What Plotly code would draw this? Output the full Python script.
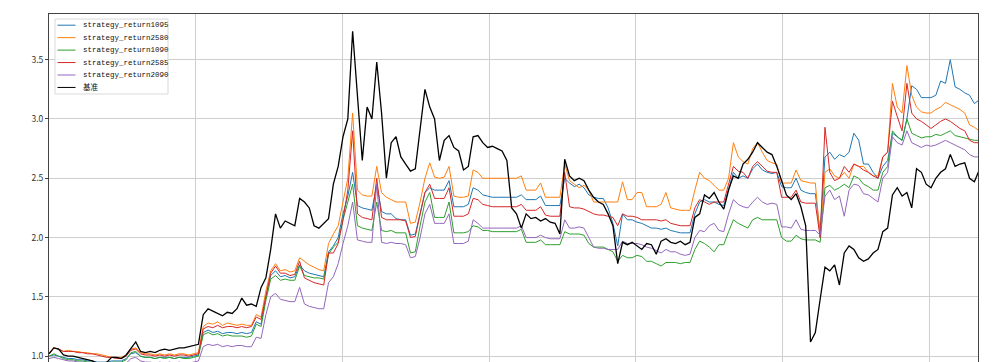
import pandas as pd
import plotly.graph_objects as go

# sampling dates (every 12 days from start of 2014)
dates = pd.date_range("2014-01-01", periods=194, freq="12D")

benchmark = [
    1.02, 1.07, 1.06, 1.01, 1.0, 1.0, 0.99, 0.98, 0.97, 0.96,
    0.94, 0.93, 0.95, 0.99, 0.99, 0.98, 1.01, 1.07, 1.12, 1.04,
    1.03, 1.04, 1.03, 1.05, 1.06, 1.05, 1.06, 1.07, 1.07, 1.08,
    1.09, 1.1, 1.35, 1.4, 1.38, 1.36, 1.34, 1.37, 1.36, 1.4,
    1.49, 1.43, 1.44, 1.42, 1.58, 1.66, 1.9, 2.2, 2.08, 2.14,
    2.12, 2.1, 2.33, 2.3, 2.25, 2.1, 2.08, 2.12, 2.16, 2.45,
    2.6, 2.85, 3.0, 3.74, 3.2, 2.65, 3.1, 3.0, 3.48, 3.05,
    2.5, 2.8, 2.85, 2.68, 2.62, 2.56, 2.58, 2.9, 3.25, 3.1,
    3.0, 2.65, 2.82, 2.86, 2.76, 2.73, 2.57, 2.6, 2.85, 2.86,
    2.8, 2.76, 2.77, 2.75, 2.73, 2.65, 2.25, 2.2, 2.08, 2.2,
    2.16, 2.17, 2.14, 2.16, 2.13, 2.12, 2.03, 2.66, 2.52, 2.48,
    2.5, 2.48, 2.4, 2.34, 2.3, 2.28, 2.2, 2.1, 1.78, 1.96,
    1.94, 1.96, 1.93, 1.9, 1.95, 1.94, 1.86, 1.97, 1.99, 1.96,
    1.95, 1.97, 1.94, 1.96, 2.17, 2.2, 2.36, 2.33, 2.38, 2.3,
    2.24, 2.4, 2.52, 2.5, 2.62, 2.66, 2.72, 2.8, 2.76, 2.72,
    2.7, 2.6, 2.48, 2.36, 2.32, 2.37, 2.26, 2.1, 1.12, 1.2,
    1.48, 1.75, 1.72, 1.77, 1.6, 1.87, 1.93, 1.9, 1.83, 1.8,
    1.82, 1.87, 1.9, 2.05, 2.08, 2.36, 2.42, 2.35, 2.38, 2.25,
    2.58, 2.55, 2.45, 2.42, 2.5, 2.55, 2.58, 2.7, 2.6, 2.62,
    2.63, 2.5, 2.47, 2.57,
]

return1095 = [
    1.0, 1.01, 1.0, 0.99, 0.98, 0.98, 0.97, 0.97, 0.96, 0.96,
    0.95, 0.95, 0.95, 0.96, 0.96, 0.96, 0.98, 1.02, 1.03, 1.0,
    0.99, 0.99, 0.98, 0.99, 0.99, 0.99, 0.98, 0.99, 0.99, 0.99,
    1.0, 1.01, 1.2, 1.22, 1.2, 1.21, 1.19, 1.2, 1.2, 1.19,
    1.2, 1.19, 1.2, 1.29, 1.27, 1.5, 1.68, 1.72, 1.67, 1.68,
    1.66, 1.67, 1.77, 1.72, 1.7, 1.69, 1.68, 1.67, 1.88, 1.93,
    2.0, 2.2, 2.35, 2.55, 2.27, 2.25, 2.24, 2.23, 2.45, 2.22,
    2.2, 2.2, 2.16, 2.15, 2.15, 2.02, 2.03, 2.2, 2.38, 2.42,
    2.4, 2.4, 2.4, 2.48, 2.26, 2.26, 2.26, 2.28, 2.42, 2.4,
    2.36, 2.35, 2.34, 2.34, 2.34, 2.34, 2.34, 2.34, 2.36, 2.32,
    2.32, 2.32, 2.35, 2.27, 2.27, 2.27, 2.27, 2.5, 2.46, 2.43,
    2.45, 2.42, 2.36, 2.34, 2.33, 2.33, 2.25, 2.12, 1.93, 2.2,
    2.15, 2.15, 2.13, 2.12, 2.1, 2.08, 2.08, 2.07, 2.08, 2.06,
    2.05, 2.04, 2.04, 2.04, 2.2, 2.3, 2.32, 2.3, 2.3, 2.28,
    2.27, 2.4, 2.55, 2.5, 2.52, 2.5, 2.58, 2.62, 2.57, 2.55,
    2.54, 2.55, 2.43, 2.42, 2.42, 2.5, 2.4, 2.38, 2.37, 2.37,
    2.05, 2.68, 2.72, 2.66, 2.7, 2.68, 2.72, 2.88, 2.82, 2.62,
    2.62, 2.55, 2.5, 2.6, 2.65, 2.88, 2.85, 2.82, 3.0, 3.28,
    3.25, 3.18, 3.18, 3.18, 3.2, 3.32, 3.3, 3.5, 3.27, 3.25,
    3.22, 3.2, 3.13, 3.16,
]

return2580 = [
    1.02, 1.07, 1.06, 1.04, 1.05, 1.04, 1.04, 1.03, 1.03, 1.02,
    1.02, 1.01, 1.0, 0.99, 0.99, 0.99, 1.01, 1.06, 1.07, 1.03,
    1.02, 1.02, 1.01, 1.02, 1.01, 1.02, 1.01, 1.02, 1.02, 1.01,
    1.02, 1.03, 1.25, 1.28, 1.27, 1.29, 1.26, 1.28, 1.27, 1.26,
    1.27, 1.26, 1.26, 1.35, 1.33, 1.55, 1.72, 1.78, 1.72, 1.73,
    1.71, 1.72, 1.83, 1.8, 1.77, 1.75, 1.73, 1.72, 1.95, 2.03,
    2.1, 2.3, 2.5, 3.05, 2.4, 2.36, 2.35, 2.35, 2.6, 2.38,
    2.34, 2.32, 2.3, 2.3, 2.3, 2.12, 2.13, 2.3, 2.5, 2.63,
    2.51, 2.5, 2.51, 2.6, 2.35, 2.34, 2.34, 2.35, 2.57, 2.55,
    2.5, 2.5, 2.5, 2.5, 2.5, 2.5, 2.5, 2.5, 2.52, 2.4,
    2.4, 2.4, 2.46, 2.34, 2.34, 2.34, 2.34, 2.62, 2.48, 2.45,
    2.42, 2.44, 2.4, 2.3, 2.3, 2.3, 2.3, 2.3, 2.3, 2.47,
    2.32, 2.32, 2.38, 2.38, 2.26, 2.26, 2.26, 2.28, 2.38, 2.25,
    2.24, 2.23, 2.23, 2.23, 2.4, 2.55, 2.5, 2.48, 2.44, 2.4,
    2.4, 2.5, 2.8, 2.68, 2.64, 2.62, 2.75, 2.8, 2.72, 2.65,
    2.63, 2.62, 2.46, 2.46, 2.46, 2.57, 2.48, 2.47, 2.46, 2.46,
    2.0, 2.55, 2.58, 2.52, 2.5, 2.55, 2.5, 2.62, 2.6, 2.6,
    2.55, 2.52, 2.52, 2.68, 2.72, 3.3, 3.1, 3.05, 3.45, 3.2,
    3.1, 3.06, 3.05, 3.05, 3.08, 3.1, 3.14, 3.12, 3.1, 3.08,
    3.05, 2.95, 2.93, 2.9,
]

return1090 = [
    1.0, 1.02, 1.0, 0.98, 0.97, 0.97, 0.96, 0.96, 0.95, 0.95,
    0.94, 0.94, 0.94, 0.95, 0.95, 0.95, 0.97, 1.03, 1.04, 1.0,
    0.99, 0.99, 0.98, 0.99, 0.98, 0.99, 0.98, 0.99, 0.98, 0.98,
    0.99, 1.0, 1.18, 1.2, 1.18, 1.19, 1.17, 1.18, 1.17, 1.17,
    1.17, 1.16, 1.17, 1.27, 1.25, 1.47, 1.65, 1.68, 1.64, 1.65,
    1.64, 1.64, 1.76, 1.68, 1.67, 1.66, 1.66, 1.65, 1.86, 1.92,
    1.96, 2.15, 2.3, 2.45, 2.1, 2.08, 2.07, 2.06, 2.3, 2.06,
    2.05, 2.06, 2.04, 2.04, 2.04, 1.87, 1.88, 2.1, 2.3, 2.38,
    2.17, 2.17, 2.17, 2.3, 2.04, 2.04, 2.04, 2.05, 2.1, 2.09,
    2.06, 2.06, 2.05, 2.05, 2.05, 2.05, 2.05, 2.05, 2.07, 1.96,
    1.96, 1.96, 1.98, 1.94, 1.94, 1.94, 1.94, 2.05, 2.03, 2.03,
    2.03, 2.02, 1.95, 1.92, 1.92, 1.92, 1.9, 1.88, 1.8, 1.85,
    1.83, 1.83, 1.85, 1.84, 1.8, 1.8, 1.78, 1.76, 1.79, 1.79,
    1.79, 1.78, 1.79, 1.79, 1.9, 1.97, 1.95, 1.92, 1.88, 1.94,
    1.94, 2.05, 2.15, 2.12, 2.1, 2.08, 2.15, 2.17, 2.15, 2.15,
    2.15, 2.15, 2.0, 1.97, 1.97, 2.02, 1.99, 1.98, 1.98, 1.98,
    1.96, 2.42, 2.44, 2.4, 2.42, 2.45, 2.42, 2.52, 2.5, 2.45,
    2.43, 2.4, 2.4, 2.55, 2.6, 2.9, 2.85, 2.82, 3.0, 2.88,
    2.86, 2.84, 2.85, 2.85, 2.87, 2.86, 2.88, 2.9, 2.86, 2.85,
    2.84, 2.83, 2.82, 2.82,
]

return2585 = [
    1.02, 1.07, 1.06, 1.04, 1.04, 1.04, 1.03, 1.03, 1.02, 1.02,
    1.01, 1.0, 0.99, 0.99, 0.98, 0.98, 1.0, 1.05, 1.06, 1.02,
    1.01, 1.01, 1.0, 1.01, 1.0, 1.01, 1.0, 1.01, 1.01, 1.0,
    1.01, 1.02, 1.23, 1.25, 1.24, 1.26, 1.24, 1.25, 1.25, 1.24,
    1.25, 1.24, 1.25, 1.33, 1.31, 1.52, 1.7, 1.76, 1.7, 1.7,
    1.68, 1.69, 1.8, 1.66, 1.64, 1.62, 1.61, 1.6, 1.87, 1.87,
    1.95, 2.15, 2.4, 2.9, 2.2, 2.17, 2.16, 2.15, 2.5, 2.17,
    2.15, 2.15, 2.15, 2.15, 2.14, 2.0, 2.01, 2.2, 2.38, 2.45,
    2.33, 2.33, 2.33, 2.42, 2.18, 2.18, 2.18, 2.2, 2.33, 2.32,
    2.28, 2.27, 2.26, 2.26, 2.26, 2.26, 2.26, 2.26, 2.28, 2.23,
    2.23, 2.23, 2.26, 2.19, 2.18, 2.18, 2.18, 2.55, 2.26, 2.25,
    2.25, 2.24, 2.22, 2.2, 2.19, 2.19, 2.18, 2.17, 2.1, 2.2,
    2.18, 2.18, 2.17, 2.15, 2.15, 2.15, 2.15, 2.14, 2.15, 2.12,
    2.11, 2.1, 2.1, 2.1, 2.25, 2.32, 2.3, 2.28, 2.3, 2.3,
    2.3, 2.45, 2.6, 2.56, 2.55, 2.5, 2.6, 2.64, 2.6, 2.56,
    2.55, 2.55, 2.34, 2.34, 2.34, 2.4, 2.3, 2.29, 2.29, 2.29,
    2.0, 2.93, 2.55, 2.48, 2.5, 2.6, 2.55, 2.62, 2.6, 2.57,
    2.55, 2.52, 2.5, 2.68, 2.72, 3.15, 3.02, 2.9, 3.3, 3.05,
    3.0, 2.98, 2.95, 2.92, 2.95, 2.98, 3.0, 2.98, 2.95, 2.92,
    2.9, 2.82, 2.8, 2.8,
]

return2090 = [
    0.98, 0.99, 0.98, 0.97, 0.96, 0.96, 0.95, 0.95, 0.94, 0.94,
    0.93, 0.93, 0.92, 0.93, 0.93, 0.93, 0.94, 0.98, 0.99, 0.96,
    0.95, 0.95, 0.94, 0.95, 0.94, 0.95, 0.94, 0.95, 0.94, 0.94,
    0.95, 0.96, 1.08, 1.1, 1.09, 1.1, 1.08, 1.09, 1.08, 1.09,
    1.09, 1.08, 1.08, 1.16, 1.15, 1.35, 1.5, 1.53, 1.48, 1.47,
    1.46, 1.46, 1.58, 1.44, 1.42, 1.41, 1.4, 1.4, 1.62, 1.67,
    1.78, 1.95, 2.1, 2.3, 1.98, 1.97, 1.96, 1.96, 2.45, 1.96,
    1.95, 1.96, 1.95, 1.95, 1.94, 1.83, 1.84, 2.0, 2.2, 2.28,
    2.12, 2.12, 2.12, 2.2, 1.95, 1.95, 1.95, 1.97, 2.15, 2.12,
    2.08, 2.08, 2.08, 2.08, 2.08, 2.08, 2.08, 2.08, 2.1, 2.0,
    2.0, 2.0, 2.02, 2.0, 1.99, 1.99, 1.99, 2.15, 2.08, 2.08,
    2.09, 2.08, 2.0, 1.92, 1.91, 1.91, 1.9, 1.9, 1.9, 1.97,
    1.95, 1.95, 1.95, 1.94, 1.92, 1.91, 1.89, 1.87, 1.9, 1.88,
    1.88, 1.86, 1.85, 1.86, 2.0, 2.06, 2.05, 2.1, 2.12, 2.06,
    2.05, 2.2, 2.32, 2.28, 2.26, 2.25, 2.3, 2.34, 2.3, 2.28,
    2.29, 2.28, 2.09, 2.09, 2.08, 2.15, 2.07, 2.06, 2.06, 2.06,
    2.02, 2.35, 2.4, 2.32, 2.35, 2.18, 2.4, 2.45, 2.44, 2.37,
    2.36, 2.33, 2.3, 2.5, 2.55, 2.85, 2.8, 2.78, 2.9, 2.8,
    2.78, 2.76, 2.78, 2.77, 2.78, 2.8, 2.82, 2.8, 2.78, 2.76,
    2.74, 2.7, 2.68, 2.68,
]

series = [
    ("strategy_return1095", return1095, "#1f77b4", 1.0),
    ("strategy_return2580", return2580, "#ff7f0e", 1.0),
    ("strategy_return1090", return1090, "#2ca02c", 1.0),
    ("strategy_return2585", return2585, "#d62728", 1.0),
    ("strategy_return2090", return2090, "#9467bd", 1.0),
    ("基准", benchmark, "#000000", 1.3),
]

W, H = 1002, 362
ML, MR, MT, MB = 49, 24, 14, 0
PW, PH = W - ML - MR, H - MT - MB


def px(xp):
    return (xp - ML) / PW


def py(yp):
    return (H - MB - yp) / PH


fig = go.Figure()
for name, vals, color, width in series:
    fig.add_trace(go.Scatter(
        x=dates, y=vals, mode="lines", name=name,
        line=dict(color=color, width=width),
    ))

# matplotlib-style compact legend (frame, line samples, labels)
shapes = [dict(type="rect", xref="paper", yref="paper",
               x0=px(55), x1=px(168), y0=py(94), y1=py(19),
               line=dict(color="#d9d9d9", width=1), fillcolor="rgba(255,255,255,0.85)",
               layer="above")]
annotations = []
row0, rowstep = 25.2, 12.45
for k, (name, vals, color, width) in enumerate(series):
    yc = row0 + k * rowstep
    shapes.append(dict(type="line", xref="paper", yref="paper",
                       x0=px(57.5), x1=px(75.5), y0=py(yc), y1=py(yc),
                       line=dict(color=color, width=1.0), layer="above"))
    annotations.append(dict(xref="paper", yref="paper", x=px(81), y=py(yc),
                            xanchor="left", yanchor="middle", showarrow=False,
                            text=name,
                            font=dict(family="Liberation Mono, Noto Sans CJK SC, monospace",
                                      size=7.5, color="#111111")))

fig.update_layout(
    width=W, height=H,
    margin=dict(l=ML, r=MR, t=MT, b=MB),
    paper_bgcolor="white", plot_bgcolor="white",
    font=dict(family="Noto Sans CJK SC, DejaVu Sans, sans-serif", size=9, color="#333333"),
    showlegend=False,
    shapes=shapes,
    annotations=annotations,
    xaxis=dict(
        type="date", range=["2014-01-01", "2020-05-02"],
        tick0="2014-01-01", dtick="M12",
        showticklabels=False, ticks="", automargin=False,
        showgrid=True, gridcolor="#cfcfcf", gridwidth=1,
        side="top", showline=True, linecolor="#444444", linewidth=1, mirror=False,
        zeroline=False,
    ),
    yaxis=dict(
        range=[0.951, 3.885], tick0=1.0, dtick=0.5, tickformat=".1f",
        ticks="outside", ticklen=3, tickcolor="#444444", automargin=False,
        showgrid=True, gridcolor="#cfcfcf", gridwidth=1,
        showline=True, linecolor="#444444", linewidth=1, mirror=True,
        zeroline=False, tickfont=dict(size=8.5, color="#333333"),
    ),
)

fig.write_html(
    "out.html",
    config={"displayModeBar": False},
    post_script="document.body.style.margin='0';document.body.style.overflow='hidden';",
)
